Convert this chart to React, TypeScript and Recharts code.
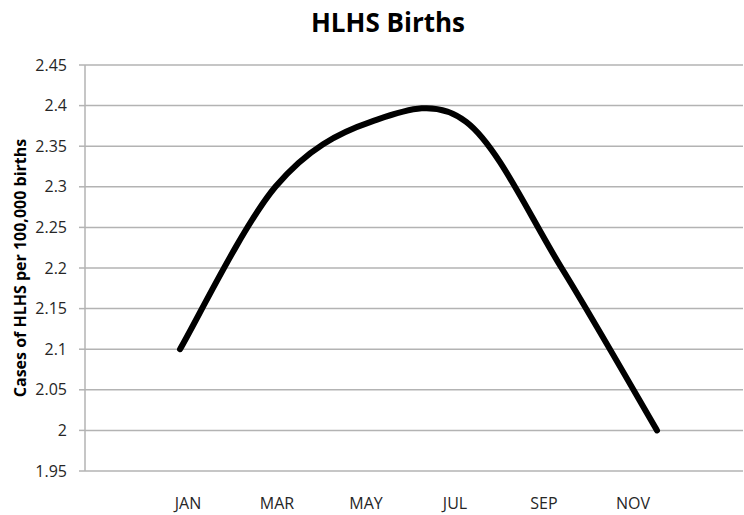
import React from 'react';
import { LineChart, Line, XAxis, YAxis, CartesianGrid } from 'recharts';

const months = ['JAN', 'MAR', 'MAY', 'JUL', 'SEP', 'NOV'];
const cases = [2.1, 2.3, 2.38, 2.38, 2.2, 2.0];
const yTicks = [1.95, 2, 2.05, 2.1, 2.15, 2.2, 2.25, 2.3, 2.35, 2.4, 2.45];

const data = months.map((m, i) => ({ month: m, cases: cases[i] }));

// Excel-like smoothed line (uniform Catmull-Rom as cubic Bezier)
function excelCurve(context: any) {
  let pts: [number, number][] = [];
  return {
    areaStart() {},
    areaEnd() {},
    lineStart() {
      pts = [];
    },
    lineEnd() {
      const n = pts.length;
      if (n === 0) return;
      context.moveTo(pts[0][0], pts[0][1]);
      for (let i = 0; i < n - 1; i++) {
        const p0 = pts[i - 1] || pts[i];
        const p1 = pts[i];
        const p2 = pts[i + 1];
        const p3 = pts[i + 2] || p2;
        const c1x = p1[0] + (p2[0] - p0[0]) / 6;
        const c1y = p1[1] + (p2[1] - p0[1]) / 6;
        const c2x = p2[0] - (p3[0] - p1[0]) / 6;
        const c2y = p2[1] - (p3[1] - p1[1]) / 6;
        context.bezierCurveTo(c1x, c1y, c2x, c2y, p2[0], p2[1]);
      }
    },
    point(x: number, y: number) {
      pts.push([+x, +y]);
    },
  };
}

const FONT = '"Open Sans", sans-serif';

export default function App() {
  return (
    <div style={{ position: 'absolute', left: 0, top: 0, width: 744, height: 515, background: '#fff' }}>
      <div
        style={{
          position: 'absolute',
          left: 288,
          top: 9,
          width: 200,
          textAlign: 'center',
          fontFamily: FONT,
          fontWeight: 700,
          fontSize: 26,
          lineHeight: '26px',
          color: '#000',
          whiteSpace: 'nowrap',
        }}
      >
        HLHS Births
      </div>
      <LineChart width={744} height={515} data={data} margin={{ top: 65, right: 1, bottom: 0, left: 0 }}>
        <CartesianGrid xAxisId="labels" vertical={false} stroke="#b3b3b3" strokeWidth={1.5} />
        <XAxis
          xAxisId="labels"
          dataKey="month"
          height={44}
          axisLine={false}
          tickLine={false}
          tickSize={0}
          tickMargin={27}
          padding={{ left: 103, right: 110 }}
          tick={{ fill: '#262626', fontSize: 16, fontFamily: FONT }}
          interval={0}
        />
        <XAxis
          xAxisId="data"
          dataKey="month"
          hide
          height={0}
          padding={{ left: 95, right: 86 }}
        />
        <YAxis
          width={85}
          domain={[1.95, 2.45]}
          ticks={yTicks}
          interval={0}
          allowDecimals
          axisLine={{ stroke: '#b3b3b3', strokeWidth: 1.5 }}
          tickLine={{ stroke: '#b3b3b3', strokeWidth: 1.5 }}
          tickSize={6}
          tickMargin={12}
          tick={{ fill: '#262626', fontSize: 16, fontFamily: FONT }}
          label={{
            value: 'Cases of HLHS per 100,000 births',
            angle: -90,
            position: 'insideLeft',
            offset: 20,
            style: { textAnchor: 'middle', fontFamily: FONT, fontWeight: 700, fontSize: 16, fill: '#000' },
          }}
        />
        <Line
          xAxisId="data"
          dataKey="cases"
          type={excelCurve as any}
          stroke="#000"
          strokeWidth={6}
          strokeLinecap="round"
          dot={false}
          activeDot={false}
          isAnimationActive={false}
        />
      </LineChart>
    </div>
  );
}
